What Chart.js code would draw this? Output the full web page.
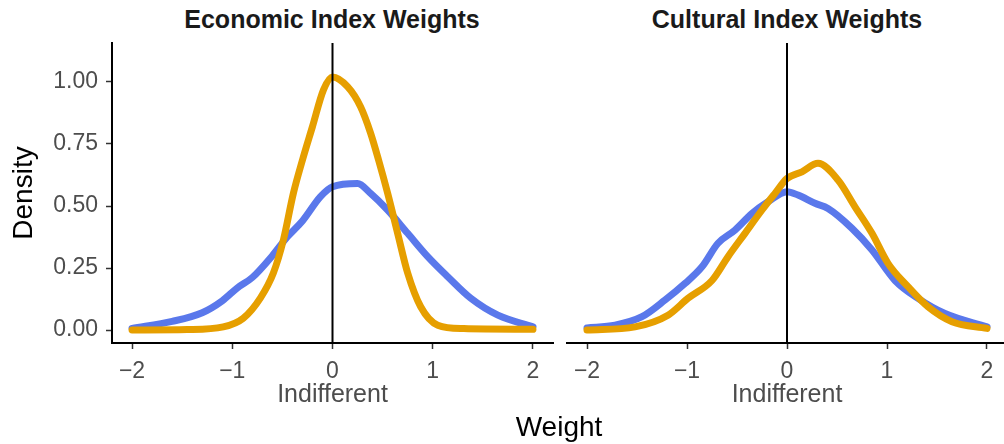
<!DOCTYPE html>
<html lang="en">
<head>
  <meta charset="UTF-8">
  <title>Economic and Cultural Index Weights</title>
  <script src="https://cdn.jsdelivr.net/npm/chart.js"></script>
  <style>
    body {
      margin: 0;
      width: 1004px;
      height: 444px;
      overflow: hidden;
      position: relative;
      background: #fff;
      font-family: "Liberation Sans", Arial, sans-serif;
    }

    canvas {
      position: absolute;
      top: 0;
    }

    #econChart { left: 0; }
    #cultChart { left: 560px; }

    .title {
      position: absolute;
      top: 4px;
      font-weight: bold;
      font-size: 25px;
      line-height: 30px;
      color: #1a1a1a;
      transform: translateX(-50%);
      white-space: nowrap;
    }

    #weightLabel {
      position: absolute;
      left: 559px;
      top: 412px;
      font-size: 28px;
      line-height: 29px;
      color: #000;
      transform: translateX(-50%);
    }
  </style>
</head>
<body>

  <div class="title" style="left:332px">Economic Index Weights</div>
  <div class="title" style="left:787px">Cultural Index Weights</div>
  <canvas id="econChart" width="560" height="444"></canvas>
  <canvas id="cultChart" width="450" height="444"></canvas>
  <div id="weightLabel">Weight</div>

  <script>
    // axis ticks
    const xTickVals = [-2, -1, 0, 1, 2];
    const yTickVals = [0, 0.25, 0.5, 0.75, 1.0];
    const vlineX = [0];

    // Economic index: density curves
    const econBlueX = [-2.0, -1.6, -1.3, -1.1, -0.95, -0.8, -0.6, -0.45, -0.3, -0.12, 0.0, 0.25, 0.38, 0.55, 0.75, 0.95, 1.15, 1.38, 1.65, 2.0];
    const econBlueY = [0.007, 0.035, 0.07, 0.118, 0.17, 0.212, 0.30, 0.376, 0.44, 0.538, 0.578, 0.591, 0.551, 0.484, 0.39, 0.296, 0.215, 0.128, 0.06, 0.013];
    const econOrangeX = [-2.0, -1.45, -1.09, -0.89, -0.72, -0.59, -0.49, -0.39, -0.30, -0.20, -0.09, 0.0, 0.15, 0.28, 0.38, 0.46, 0.55, 0.65, 0.75, 0.88, 1.05, 1.31, 2.0];
    const econOrangeY = [0.0, 0.002, 0.013, 0.048, 0.129, 0.23, 0.363, 0.552, 0.685, 0.82, 0.968, 1.02, 0.981, 0.90, 0.794, 0.685, 0.552, 0.39, 0.23, 0.094, 0.02, 0.006, 0.003];

    // Cultural index
    const cultBlueX = [-2.0, -1.72, -1.45, -1.22, -1.02, -0.85, -0.69, -0.52, -0.35, -0.19, 0.0, 0.11, 0.28, 0.41, 0.65, 0.85, 1.08, 1.31, 1.58, 2.0];
    const cultBlueY = [0.009, 0.02, 0.054, 0.121, 0.188, 0.255, 0.35, 0.403, 0.47, 0.517, 0.558, 0.544, 0.511, 0.49, 0.41, 0.323, 0.2, 0.128, 0.067, 0.013];
    const cultOrangeX = [-2.0, -1.52, -1.19, -0.99, -0.75, -0.59, -0.42, -0.25, -0.12, 0.0, 0.15, 0.31, 0.51, 0.68, 0.85, 1.01, 1.21, 1.41, 1.65, 2.0];
    const cultOrangeY = [0.0, 0.013, 0.06, 0.128, 0.2, 0.296, 0.39, 0.484, 0.551, 0.611, 0.638, 0.672, 0.605, 0.497, 0.39, 0.269, 0.175, 0.094, 0.034, 0.007];

    const X_MIN = -2.2, X_MAX = 2.2;
    const Y_MIN = -0.052, Y_MAX = 1.157;

    const BLUE = '#5a78eb';
    const ORANGE = '#e69f00';
    const TICK_GREY = '#4d4d4d';

    function pts(xs, ys) {
      return xs.map((x, i) => ({ x: x, y: ys[i] }));
    }

    function curve(xs, ys, color, order) {
      return {
        data: pts(xs, ys),
        borderColor: color,
        borderWidth: 7,
        borderCapStyle: 'round',
        borderJoinStyle: 'round',
        pointRadius: 0,
        cubicInterpolationMode: 'monotone',
        fill: false,
        order: order
      };
    }

    function vline() {
      return {
        data: [{ x: vlineX[0], y: Y_MIN }, { x: vlineX[0], y: Y_MAX }],
        borderColor: '#000',
        borderWidth: 2,
        pointRadius: 0,
        order: 0
      };
    }

    function makeChart(id, blue, orange, showY, padding) {
      return new Chart(document.getElementById(id), {
        type: 'line',
        data: {
          datasets: [vline(), orange, blue]
        },
        options: {
          responsive: false,
          animation: false,
          layout: { padding: padding },
          plugins: {
            legend: { display: false },
            tooltip: { enabled: false }
          },
          scales: {
            x: {
              type: 'linear',
              min: X_MIN,
              max: X_MAX,
              afterBuildTicks: s => { s.ticks = xTickVals.map(v => ({ value: v })); },
              afterFit: s => { s.height = 65; },
              grid: { drawOnChartArea: false, drawTicks: true, tickLength: 6, tickColor: '#333', tickWidth: 1.5 },
              border: { display: true, color: '#000', width: 2 },
              ticks: {
                color: TICK_GREY,
                padding: 9,
                maxRotation: 0,
                font: { family: 'Liberation Sans', size: 23 },
                callback: v => v < 0 ? '\u2212' + Math.abs(v) : String(v)
              },
              title: {
                display: true,
                text: 'Indifferent',
                color: TICK_GREY,
                font: { family: 'Liberation Sans', size: 25, lineHeight: 1 },
                padding: { top: 0, bottom: 0 }
              }
            },
            y: {
              type: 'linear',
              display: showY,
              min: Y_MIN,
              max: Y_MAX,
              afterBuildTicks: s => { s.ticks = yTickVals.map(v => ({ value: v })); },
              afterFit: s => { s.width = showY ? 112 : 0; },
              grid: { drawOnChartArea: false, drawTicks: true, tickLength: 6, tickColor: '#333', tickWidth: 1.5 },
              border: { display: true, color: '#000', width: 2 },
              ticks: {
                color: TICK_GREY,
                padding: 8,
                font: { family: 'Liberation Sans', size: 23 },
                callback: v => v.toFixed(2)
              },
              title: {
                display: true,
                text: 'Density',
                color: '#000',
                font: { family: 'Liberation Sans', size: 28, lineHeight: 1 },
                padding: { top: 10, bottom: 0 }
              }
            }
          }
        }
      });
    }

    makeChart('econChart',
      curve(econBlueX, econBlueY, BLUE, 2),
      curve(econOrangeX, econOrangeY, ORANGE, 1),
      true,
      { top: 43, right: 7, bottom: 36, left: 0 });

    makeChart('cultChart',
      curve(cultBlueX, cultBlueY, BLUE, 2),
      curve(cultOrangeX, cultOrangeY, ORANGE, 1),
      false,
      { top: 43, right: 3, bottom: 36, left: 7 });
  </script>
</body>
</html>
